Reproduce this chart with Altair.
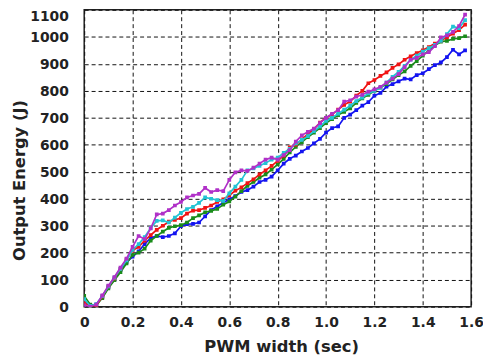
import altair as alt
import pandas as pd

x_vals = [round(i * 0.025, 3) for i in range(64)]

blue = [20, 5, 8, 35, 72, 100, 135, 165, 185, 205, 232, 255, 262, 258, 262, 272,
        298, 306, 307, 312, 335, 358, 372, 385, 398, 410, 425, 432, 445, 462, 470, 482,
        505, 530, 548, 560, 575, 588, 605, 622, 645, 662, 668, 700, 712, 728, 745, 758,
        782, 792, 815, 825, 835, 845, 842, 858, 865, 880, 895, 905, 925, 952, 935, 950]
red = [15, 2, 5, 38, 75, 105, 140, 175, 208, 222, 245, 265, 285, 300, 315, 322,
       328, 345, 356, 358, 366, 375, 388, 398, 412, 430, 442, 458, 472, 490, 505, 522,
       540, 560, 590, 600, 620, 640, 658, 682, 700, 712, 730, 748, 760, 782, 800, 828,
       840, 855, 868, 885, 898, 915, 928, 940, 950, 962, 975, 985, 998, 1012, 1025, 1045]
green = [40, 8, 5, 32, 68, 98, 128, 160, 192, 200, 215, 245, 262, 278, 292, 298,
         302, 312, 328, 338, 350, 355, 362, 378, 390, 408, 428, 448, 462, 478, 490, 508,
         527, 548, 572, 592, 610, 628, 645, 662, 680, 695, 710, 722, 735, 755, 772, 785,
         800, 812, 825, 842, 858, 872, 892, 910, 930, 950, 968, 982, 985, 992, 995, 1002]
cyan = [28, 3, 10, 40, 75, 108, 140, 172, 210, 232, 258, 292, 318, 320, 312, 330,
        348, 362, 370, 385, 405, 400, 395, 392, 420, 445, 470, 505, 512, 522, 532, 545,
        552, 570, 585, 605, 618, 632, 650, 668, 688, 700, 715, 730, 745, 762, 775, 790,
        800, 812, 830, 852, 870, 892, 915, 930, 945, 958, 970, 985, 1010, 1038, 1032, 1062]
magenta = [5, 0, 8, 42, 78, 110, 145, 178, 222, 262, 250, 290, 342, 345, 358, 375,
           388, 405, 412, 418, 440, 425, 432, 428, 470, 498, 505, 503, 515, 530, 545, 552,
           545, 562, 580, 612, 635, 648, 660, 680, 700, 715, 728, 760, 765, 778, 785, 797,
           805, 815, 830, 845, 862, 888, 915, 922, 935, 943, 965, 998, 1005, 1018, 1040, 1082]

series_names = ["blue", "green", "red", "cyan", "magenta"]
series_vals = [blue, green, red, cyan, magenta]
series_colors = ["#1414f0", "#1a8c1a", "#f01414", "#22c4d4", "#b030c8"]

x_ticks = [0, 0.2, 0.4, 0.6, 0.8, 1.0, 1.2, 1.4, 1.6]
y_ticks = [0, 100, 200, 300, 400, 500, 600, 700, 800, 900, 1000, 1100]

rows = []
for k, (name, vals) in enumerate(zip(series_names, series_vals)):
    for xv, yv in zip(x_vals, vals):
        rows.append({"x": xv, "y": yv, "s": name, "o": k})
df = pd.DataFrame(rows)

FONT = "DejaVu Sans"

xscale = alt.Scale(domain=[0, 1.6], nice=False, zero=False)
yscale = alt.Scale(domain=[0, 1100], nice=False)
color = alt.Color("s:N", scale=alt.Scale(domain=series_names, range=series_colors), legend=None)

xaxis = alt.Axis(values=x_ticks, labelExpr="datum.value == 0 ? '0' : format(datum.value, '.1f')",
                 title="PWM width (sec)", ticks=False, domain=False, labelFlush=False,
                 labelOverlap=False,
                 grid=True, gridColor="#111111", gridDash=[4, 3], gridWidth=1, gridOpacity=1,
                 labelFont=FONT, labelFontSize=14, labelFontWeight="bold", labelColor="#222222",
                 labelPadding=9,
                 titleFont=FONT, titleFontSize=16.5, titleFontWeight="bold", titleColor="#222222",
                 titleX=199, titleY=40, titleBaseline="middle", titleAlign="center")
yaxis = alt.Axis(values=y_ticks, format="d", title="Output Energy (J)", ticks=False, domain=False,
                 labelOverlap=False,
                 grid=True, gridColor="#111111", gridDash=[4, 3], gridWidth=1, gridOpacity=1,
                 labelFont=FONT, labelFontSize=14, labelFontWeight="bold", labelColor="#222222",
                 labelPadding=16,
                 labelOffset={"condition": {"test": "datum.value == 1100", "value": 7}, "value": 1},
                 titleFont=FONT, titleFontSize=16.5, titleFontWeight="bold", titleColor="#222222",
                 titleX=-65, titleY=172, titleBaseline="middle", titleAlign="center", titleAngle=270)

enc_x = alt.X("x:Q", scale=xscale, axis=xaxis)
enc_y = alt.Y("y:Q", scale=yscale, axis=yaxis)

lines = alt.Chart(df).mark_line(strokeWidth=1.7, clip=True).encode(
    x=enc_x, y=enc_y, color=color, detail="s:N", order=alt.Order("x:Q"),
)
points = alt.Chart(df).mark_point(filled=True, shape="square", size=14, opacity=1, clip=True).encode(
    x=enc_x, y=enc_y, color=color,
)

layers = []
for name in series_names:
    sub = df[df.s == name]
    layers.append(lines.properties(data=sub))
    layers.append(points.properties(data=sub))

chart = alt.layer(*layers).properties(
    width=391, height=300,
    autosize=alt.AutoSizeParams(type="none"),
    padding={"left": 77, "top": 0, "right": 12, "bottom": 50},
    background="white",
).configure_view(stroke="#222222", strokeWidth=1.5)

chart.save("out.html", embed_options={"renderer": "svg", "actions": False})
